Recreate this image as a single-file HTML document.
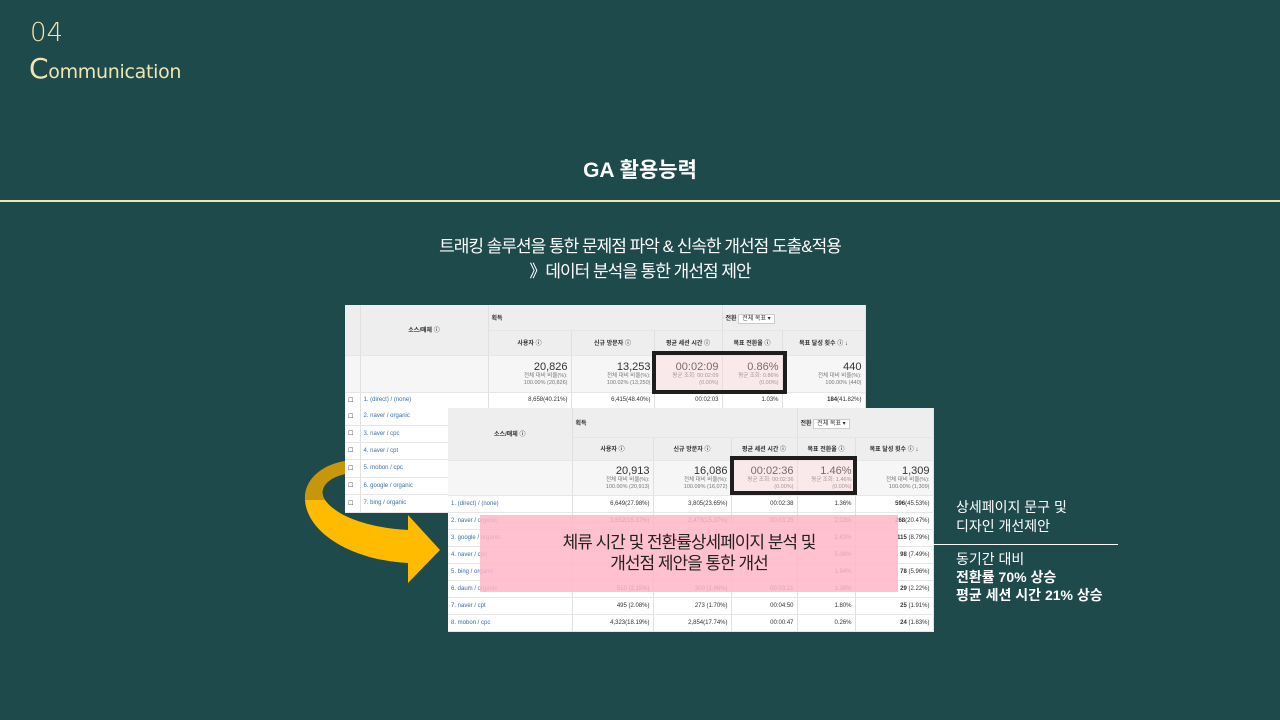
<!DOCTYPE html>
<html><head><meta charset="utf-8"><style>
body{margin:0;width:1280px;height:720px;background:#1f4a4c;position:relative;overflow:hidden;font-family:"Liberation Sans","Noto Sans CJK KR",sans-serif}
.a{position:absolute}
table{border-collapse:collapse;position:absolute;background:#fff;font-size:6px;color:#333;table-layout:fixed}
td{border-right:1px solid #e0e0e0;border-bottom:1px solid #e6e6e6;padding:0 3px;overflow:hidden;white-space:nowrap}
.h{background:#eee;font-weight:bold;text-align:center}
.s{background:#f6f6f6;text-align:right;color:#777;line-height:7px;font-size:5.5px}
.s b{font-size:11px;color:#333;font-weight:normal;display:block;line-height:12px}
.r{text-align:right}
.l{color:#3c6ea8}
.box{position:absolute;border:4px solid #1e1e1e;background:rgba(255,210,215,.35)}
</style></head><body>
<div class="a" style="left:30px;top:18px;color:#f0e6b0;font-size:26px;font-family:'DejaVu Sans',sans-serif;font-weight:200">04</div>
<div class="a" style="left:29px;top:52px;color:#f0e6b0;font-size:19px;font-family:'DejaVu Sans',sans-serif;letter-spacing:-0.3px"><span style="font-size:28px">C</span>ommunication</div>
<div class="a" style="left:0;width:1280px;top:154px;text-align:center;color:#fff;font-size:21px;font-weight:bold">GA 활용능력</div>
<div class="a" style="left:0;top:200px;width:1280px;height:2px;background:#f0e6b0"></div>
<div class="a" style="left:0;width:1280px;top:234px;text-align:center;color:#fff;font-size:17px;line-height:25px;letter-spacing:-1px">트래킹 솔루션을 통한 문제점 파악 &amp; 신속한 개선점 도출&amp;적용<br>》데이터 분석을 통한 개선점 제안</div>

<table style="left:345px;top:305px;width:520px">
<colgroup><col style="width:15px"><col style="width:128px"><col style="width:83px"><col style="width:83px"><col style="width:68px"><col style="width:60px"><col style="width:83px"></colgroup>
<tr style="height:25px"><td class="h" rowspan="2"></td><td class="h" rowspan="2">소스/매체 ⓘ</td><td class="h" colspan="3" style="text-align:left">획득</td><td class="h" colspan="2" style="text-align:left">전환 <span style="background:#fff;border:1px solid #ccc;font-weight:normal;padding:1px 3px">전체 목표 ▾</span></td></tr>
<tr style="height:25px"><td class="h">사용자 ⓘ</td><td class="h">신규 방문자 ⓘ</td><td class="h">평균 세션 시간 ⓘ</td><td class="h">목표 전환율 ⓘ</td><td class="h">목표 달성 횟수 ⓘ ↓</td></tr>
<tr style="height:37px"><td class="s"></td><td class="s"></td><td class="s"><b>20,826</b>전체 대비 비율(%):<br>100.00% (20,826)</td><td class="s"><b>13,253</b>전체 대비 비율(%):<br>100.02% (13,250)</td><td class="s"><b>00:02:09</b>평균 조회: 00:02:09<br>(0.00%)</td><td class="s"><b>0.86%</b>평균 조회: 0.86%<br>(0.00%)</td><td class="s"><b>440</b>전체 대비 비율(%):<br>100.00% (440)</td></tr>
<tr style="height:16px"><td>☐</td><td class="l">1. (direct) / (none)</td><td class="r">8,658(40.21%)</td><td class="r">6,415(48.40%)</td><td class="r">00:02:03</td><td class="r">1.03%</td><td class="r"><b>184</b>(41.82%)</td></tr>
</table>
<table style="left:345px;top:408px;width:103px">
<colgroup><col style="width:15px"><col style="width:88px"></colgroup>
<tr style="height:17px"><td>☐</td><td class="l">2. naver / organic</td></tr>
<tr style="height:17px"><td>☐</td><td class="l">3. naver / cpc</td></tr>
<tr style="height:17px"><td>☐</td><td class="l">4. naver / cpt</td></tr>
<tr style="height:18px"><td>☐</td><td class="l">5. mobon / cpc</td></tr>
<tr style="height:17px"><td>☐</td><td class="l">6. google / organic</td></tr>
<tr style="height:18px"><td>☐</td><td class="l">7. bing / organic</td></tr>
</table>
<div class="box" style="left:652px;top:351px;width:127px;height:35px"></div>

<svg class="a" style="left:0;top:0" width="1280" height="720">
<path d="M345 461 C318 466 304 482 305 500 C307 532 350 560 408 563 L408 583 L440 550 L408 515 L408 530 C372 528 338 518 325 500 C318 490 326 478 345 474 Z" fill="#ffbb00"/>
<path d="M345 461 C318 466 304 482 305 500 L325 500 C318 490 326 478 345 474 Z" fill="#c8960a"/>
</svg>

<table style="left:448px;top:408px;width:485px">
<colgroup><col style="width:124px"><col style="width:81px"><col style="width:78px"><col style="width:66px"><col style="width:58px"><col style="width:78px"></colgroup>
<tr style="height:29px"><td class="h" rowspan="2">소스/매체 ⓘ</td><td class="h" colspan="3" style="text-align:left">획득</td><td class="h" colspan="2" style="text-align:left">전환 <span style="background:#fff;border:1px solid #ccc;font-weight:normal;padding:1px 3px">전체 목표 ▾</span></td></tr>
<tr style="height:23px"><td class="h">사용자 ⓘ</td><td class="h">신규 방문자 ⓘ</td><td class="h">평균 세션 시간 ⓘ</td><td class="h">목표 전환율 ⓘ</td><td class="h">목표 달성 횟수 ⓘ ↓</td></tr>
<tr style="height:35px"><td class="s"></td><td class="s"><b>20,913</b>전체 대비 비율(%):<br>100.00% (20,913)</td><td class="s"><b>16,086</b>전체 대비 비율(%):<br>100.09% (16,072)</td><td class="s"><b>00:02:36</b>평균 조회: 00:02:36<br>(0.00%)</td><td class="s"><b>1.46%</b>평균 조회: 1.46%<br>(0.00%)</td><td class="s"><b>1,309</b>전체 대비 비율(%):<br>100.00% (1,309)</td></tr>
<tr style="height:17px"><td class="l">1. (direct) / (none)</td><td class="r">6,649(27.98%)</td><td class="r">3,805(23.65%)</td><td class="r">00:02:38</td><td class="r">1.36%</td><td class="r"><b>596</b>(45.53%)</td></tr>
<tr style="height:17px"><td class="l">2. naver / organic</td><td class="r">3,652(15.37%)</td><td class="r">2,473(15.37%)</td><td class="r">00:03:25</td><td class="r">2.03%</td><td class="r"><b>268</b>(20.47%)</td></tr>
<tr style="height:17px"><td class="l">3. google / organic</td><td class="r"></td><td class="r"></td><td class="r"></td><td class="r">2.43%</td><td class="r"><b>115</b> (8.79%)</td></tr>
<tr style="height:17px"><td class="l">4. naver / cpc</td><td class="r"></td><td class="r"></td><td class="r"></td><td class="r">5.08%</td><td class="r"><b>98</b> (7.49%)</td></tr>
<tr style="height:17px"><td class="l">5. bing / organic</td><td class="r"></td><td class="r"></td><td class="r"></td><td class="r">1.94%</td><td class="r"><b>78</b> (5.96%)</td></tr>
<tr style="height:17px"><td class="l">6. daum / organic</td><td class="r">510 (2.15%)</td><td class="r">300 (1.86%)</td><td class="r">00:03:21</td><td class="r">1.38%</td><td class="r"><b>29</b> (2.22%)</td></tr>
<tr style="height:17px"><td class="l">7. naver / cpt</td><td class="r">495 (2.08%)</td><td class="r">273 (1.70%)</td><td class="r">00:04:50</td><td class="r">1.80%</td><td class="r"><b>25</b> (1.91%)</td></tr>
<tr style="height:17px"><td class="l">8. mobon / cpc</td><td class="r">4,323(18.19%)</td><td class="r">2,854(17.74%)</td><td class="r">00:00:47</td><td class="r">0.26%</td><td class="r"><b>24</b> (1.83%)</td></tr>
</table>
<div class="box" style="left:730px;top:456px;width:119px;height:31px"></div>
<div class="a" style="left:480px;top:515px;width:418px;height:77px;background:rgba(255,182,200,.85)"></div>
<div class="a" style="left:480px;top:532px;width:418px;text-align:center;font-size:17px;line-height:21px;color:#222;letter-spacing:-1px">체류 시간 및 전환률상세페이지 분석 및<br>개선점 제안을 통한 개선</div>

<div class="a" style="left:956px;top:498px;color:#fff;font-size:14px;line-height:19px">상세페이지 문구 및<br>디자인 개선제안</div>
<div class="a" style="left:933px;top:544px;width:185px;height:1px;background:#fff"></div>
<div class="a" style="left:956px;top:550px;color:#fff;font-size:14px;line-height:18px">동기간 대비<br><b>전환률 70% 상승<br>평균 세션 시간 21% 상승</b></div>
</body></html>
